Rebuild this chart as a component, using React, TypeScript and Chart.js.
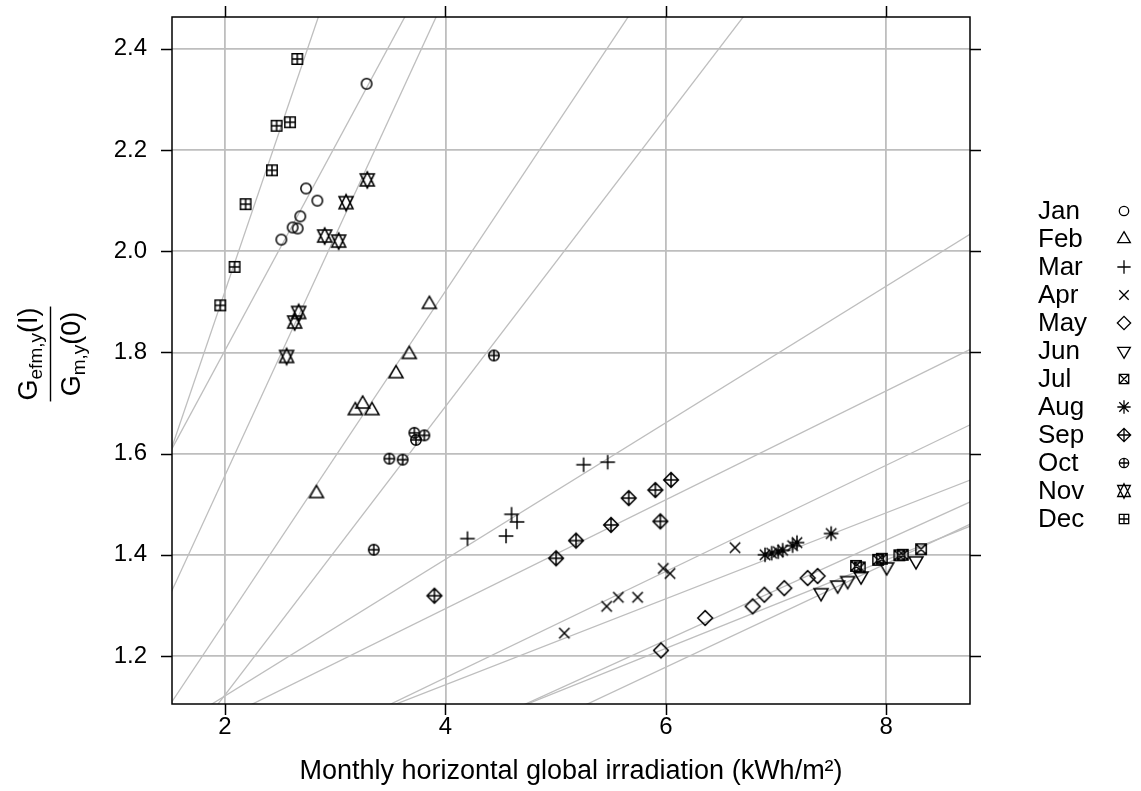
import { useEffect, useRef } from "react";
import { Chart, registerables } from "chart.js";

Chart.register(...registerables);

// ---------------- data ----------------
const months = ["Jan", "Feb", "Mar", "Apr", "May", "Jun", "Jul", "Aug", "Sep", "Oct", "Nov", "Dec"];
const pchs = [1, 2, 3, 4, 5, 6, 7, 8, 9, 10, 11, 12];

const janX = [3.285, 2.735, 2.838, 2.683, 2.614, 2.659, 2.511];
const janY = [2.331, 2.124, 2.1, 2.069, 2.047, 2.045, 2.023];
const febX = [3.854, 3.672, 3.552, 3.249, 3.182, 3.334, 2.83];
const febY = [1.895, 1.796, 1.758, 1.698, 1.685, 1.685, 1.521];
const marX = [4.2, 4.55, 4.6, 4.65, 5.254, 5.472];
const marY = [1.432, 1.437, 1.48, 1.465, 1.578, 1.583];
const aprX = [6.628, 5.977, 6.038, 5.569, 5.744, 5.463, 5.079];
const aprY = [1.414, 1.373, 1.363, 1.316, 1.316, 1.298, 1.245];
const mayX = [5.956, 6.357, 6.788, 6.894, 7.075, 7.287, 7.377];
const mayY = [1.211, 1.275, 1.298, 1.321, 1.334, 1.354, 1.358];
const junX = [7.408, 7.559, 7.65, 7.771, 8.004, 8.27];
const junY = [1.325, 1.34, 1.349, 1.358, 1.376, 1.388];
const julX = [7.726, 7.76, 7.926, 7.96, 8.119, 8.15, 8.316];
const julY = [1.378, 1.375, 1.39, 1.392, 1.399, 1.4, 1.411];
const augX = [6.9, 6.96, 7.02, 7.06, 7.15, 7.19, 7.5];
const augY = [1.4, 1.403, 1.406, 1.409, 1.418, 1.424, 1.442];
const sepX = [6.047, 5.905, 5.663, 5.95, 5.503, 5.185, 5.004, 3.9];
const sepY = [1.548, 1.528, 1.512, 1.466, 1.459, 1.428, 1.393, 1.319];
const octX = [4.44, 3.718, 3.809, 3.733, 3.491, 3.612, 3.35];
const octY = [1.794, 1.641, 1.636, 1.627, 1.59, 1.588, 1.41];
const novX = [3.291, 3.098, 2.904, 3.031, 2.668, 2.632, 2.559];
const novY = [2.141, 2.096, 2.03, 2.02, 1.879, 1.86, 1.792];
const decX = [2.656, 2.468, 2.59, 2.426, 2.187, 2.087, 1.957];
const decY = [2.38, 2.248, 2.255, 2.16, 2.093, 1.969, 1.893];

// regression line per month (intercept, slope)
const lineIntercept = [0.996, 0.613, 0.851, 0.737, 0.637, 0.564, 0.69, 0.803, 0.863, 0.553, 0.611, 0.641];
const lineSlope = [0.404, 0.327, 0.135, 0.105, 0.099, 0.1023, 0.0875, 0.085, 0.1076, 0.285, 0.473, 0.64];

const xTicks = [2, 4, 6, 8];
const yTicks = [1.2, 1.4, 1.6, 1.8, 2.0, 2.2, 2.4];
const xMin = 1.519;
const xMax = 8.76;
const yMin = 1.105;
const yMax = 2.463;

const xTitle = "Monthly horizontal global irradiation (kWh/m²)";

const allX = [janX, febX, marX, aprX, mayX, junX, julX, augX, sepX, octX, novX, decX];
const allY = [janY, febY, marY, aprY, mayY, junY, julY, augY, sepY, octY, novY, decY];

const FONT = '"Liberation Sans", Arial, Helvetica, sans-serif';
const GRAY = "#bebebe";

// ---------------- symbols (R pch) ----------------
function drawSymbol(ctx: CanvasRenderingContext2D, pch: number, x: number, y: number, r: number) {
  const S2 = Math.SQRT2;
  const line = (x1: number, y1: number, x2: number, y2: number) => {
    ctx.moveTo(x1, y1);
    ctx.lineTo(x2, y2);
  };
  ctx.beginPath();
  const TRC0 = 1.5551203, TRC1 = 1.3467736, TRC2 = 0.7775602;
  switch (pch) {
    case 1:
      ctx.arc(x, y, r, 0, Math.PI * 2);
      break;
    case 2: {
      const r2 = TRC0 * r, yc = TRC2 * r, xc = TRC1 * r;
      ctx.moveTo(x, y - r2);
      ctx.lineTo(x + xc, y + yc);
      ctx.lineTo(x - xc, y + yc);
      ctx.closePath();
      break;
    }
    case 3: {
      const h = S2 * r;
      line(x - h, y, x + h, y);
      line(x, y - h, x, y + h);
      break;
    }
    case 4:
      line(x - r, y - r, x + r, y + r);
      line(x - r, y + r, x + r, y - r);
      break;
    case 5: {
      const h = S2 * r;
      ctx.moveTo(x - h, y);
      ctx.lineTo(x, y - h);
      ctx.lineTo(x + h, y);
      ctx.lineTo(x, y + h);
      ctx.closePath();
      break;
    }
    case 6: {
      const r2 = TRC0 * r, yc = TRC2 * r, xc = TRC1 * r;
      ctx.moveTo(x, y + r2);
      ctx.lineTo(x + xc, y - yc);
      ctx.lineTo(x - xc, y - yc);
      ctx.closePath();
      break;
    }
    case 7:
      ctx.rect(x - r, y - r, 2 * r, 2 * r);
      line(x - r, y - r, x + r, y + r);
      line(x - r, y + r, x + r, y - r);
      break;
    case 8: {
      line(x - r, y - r, x + r, y + r);
      line(x - r, y + r, x + r, y - r);
      const h = S2 * r;
      line(x - h, y, x + h, y);
      line(x, y - h, x, y + h);
      break;
    }
    case 9: {
      const h = S2 * r;
      ctx.moveTo(x - h, y);
      ctx.lineTo(x, y - h);
      ctx.lineTo(x + h, y);
      ctx.lineTo(x, y + h);
      ctx.closePath();
      line(x - h, y, x + h, y);
      line(x, y - h, x, y + h);
      break;
    }
    case 10:
      ctx.arc(x, y, r, 0, Math.PI * 2);
      line(x - r, y, x + r, y);
      line(x, y - r, x, y + r);
      break;
    case 11: {
      const rr = TRC0 * r;
      const yc = 0.5 * (TRC2 * r + rr);
      const xc = TRC1 * r;
      ctx.moveTo(x, y + rr);
      ctx.lineTo(x + xc, y - yc);
      ctx.lineTo(x - xc, y - yc);
      ctx.closePath();
      ctx.moveTo(x, y - rr);
      ctx.lineTo(x + xc, y + yc);
      ctx.lineTo(x - xc, y + yc);
      ctx.closePath();
      break;
    }
    case 12:
      ctx.rect(x - r, y - r, 2 * r, 2 * r);
      line(x - r, y, x + r, y);
      line(x, y - r, x, y + r);
      break;
  }
  ctx.stroke();
}

const SYM_R = 5.2;

function makeSymbolCanvas(pch: number): HTMLCanvasElement {
  const c = document.createElement("canvas");
  c.width = 26;
  c.height = 26;
  const ctx = c.getContext("2d")!;
  ctx.strokeStyle = "#000";
  ctx.lineWidth = 1.5;
  drawSymbol(ctx, pch, 13, 13, SYM_R);
  return c;
}

// ---------------- plugins ----------------
const framePlugin = {
  id: "frame",
  afterDraw(chart: any) {
    const { ctx, chartArea } = chart;
    const xs = chart.scales.x;
    const ys = chart.scales.y;
    ctx.save();
    ctx.strokeStyle = "#000";
    ctx.lineWidth = 1.5;
    ctx.strokeRect(chartArea.left, chartArea.top, chartArea.right - chartArea.left, chartArea.bottom - chartArea.top);
    const tl = 11;
    ctx.beginPath();
    for (const v of xTicks) {
      const px = Math.round(xs.getPixelForValue(v)) + 0.5;
      ctx.moveTo(px, chartArea.bottom);
      ctx.lineTo(px, chartArea.bottom + tl);
      ctx.moveTo(px, chartArea.top);
      ctx.lineTo(px, chartArea.top - tl);
    }
    for (const v of yTicks) {
      const py = Math.round(ys.getPixelForValue(v)) + 0.5;
      ctx.moveTo(chartArea.left, py);
      ctx.lineTo(chartArea.left - tl, py);
      ctx.moveTo(chartArea.right, py);
      ctx.lineTo(chartArea.right + tl, py);
    }
    ctx.stroke();

    // x title
    ctx.fillStyle = "#000";
    ctx.font = `27px ${FONT}`;
    ctx.textAlign = "center";
    ctx.textBaseline = "alphabetic";
    ctx.fillText(xTitle, (chartArea.left + chartArea.right) / 2, 779);

    // y title: fraction, rotated
    ctx.save();
    ctx.translate(50, 354);
    ctx.rotate(-Math.PI / 2);
    const big = `27px ${FONT}`;
    const small = `19px ${FONT}`;
    const drawFrac = (base: string, sub: string, tail: string, baseline: number) => {
      ctx.font = big;
      const wB = ctx.measureText(base).width;
      const wT = ctx.measureText(tail).width;
      ctx.font = small;
      const wS = ctx.measureText(sub).width;
      const total = wB + wS + wT;
      let x = -total / 2;
      ctx.textAlign = "left";
      ctx.font = big;
      ctx.fillText(base, x, baseline);
      x += wB;
      ctx.font = small;
      ctx.fillText(sub, x, baseline + 5);
      x += wS;
      ctx.font = big;
      ctx.fillText(tail, x, baseline);
      return total;
    };
    const w1 = drawFrac("G", "efm,y", "(I)", -13);
    drawFrac("G", "m,y", "(0)", 30);
    ctx.strokeStyle = "#000";
    ctx.lineWidth = 1.4;
    ctx.beginPath();
    ctx.moveTo(-w1 / 2 - 1, 0.5);
    ctx.lineTo(w1 / 2 + 1, 0.5);
    ctx.stroke();
    ctx.restore();

    // legend
    ctx.font = `26px ${FONT}`;
    ctx.textAlign = "left";
    ctx.textBaseline = "middle";
    ctx.strokeStyle = "#000";
    ctx.lineWidth = 1.3;
    months.forEach((m, i) => {
      const yy = 211 + i * 28;
      ctx.fillText(m, 1038, yy + 1);
      drawSymbol(ctx, pchs[i], 1124, yy, 4.7);
    });
    ctx.restore();
  },
};

export default function App() {
  const ref = useRef<HTMLCanvasElement | null>(null);
  useEffect(() => {
    if (!ref.current) return;
    const pointDatasets = months.map((m, i) => ({
      type: "scatter" as const,
      label: m,
      data: allX[i].map((x, k) => ({ x, y: allY[i][k] })),
      pointStyle: makeSymbolCanvas(pchs[i]),
      pointRadius: 6,
      showLine: false,
    }));
    const lineDatasets = months.map((m, i) => ({
      type: "line" as const,
      label: m + " fit",
      data: [xMin - 1, xMax + 1].map((x) => ({ x, y: lineIntercept[i] + lineSlope[i] * x })),
      borderColor: GRAY,
      borderWidth: 1.3,
      pointRadius: 0,
      fill: false,
    }));
    const chart = new Chart(ref.current, {
      type: "scatter",
      data: { datasets: [...pointDatasets, ...lineDatasets] as any },
      options: {
        animation: false,
        responsive: false,
        events: [],
        layout: { padding: { left: 0, top: 17, right: 171, bottom: 0 } },
        plugins: { legend: { display: false }, tooltip: { enabled: false } },
        scales: {
          x: {
            type: "linear",
            min: xMin,
            max: xMax,
            afterBuildTicks: (s: any) => {
              s.ticks = xTicks.map((v) => ({ value: v }));
            },
            afterFit: (s: any) => {
              s.height = 87;
              s.paddingLeft = 0;
              s.paddingRight = 0;
            },
            ticks: {
              padding: 9,
              color: "#000",
              font: { family: FONT, size: 24 },
              callback: (v: any) => String(v),
            },
            grid: { color: GRAY, lineWidth: 1.8, drawTicks: false },
            border: { display: false },
          },
          y: {
            type: "linear",
            min: yMin,
            max: yMax,
            afterBuildTicks: (s: any) => {
              s.ticks = yTicks.map((v) => ({ value: v }));
            },
            afterFit: (s: any) => {
              s.width = 172;
              s.paddingTop = 0;
              s.paddingBottom = 0;
            },
            ticks: {
              padding: 25,
              color: "#000",
              font: { family: FONT, size: 24 },
              callback: (v: any) => Number(v).toFixed(1),
            },
            grid: { color: GRAY, lineWidth: 1.8, drawTicks: false },
            border: { display: false },
          },
        },
      },
      plugins: [framePlugin],
    });
    return () => chart.destroy();
  }, []);
  return (
    <div style={{ position: "fixed", left: 0, top: 0, width: 1141, height: 791, background: "#fff" }}>
      <canvas ref={ref} width={1141} height={791} style={{ width: 1141, height: 791 }} />
    </div>
  );
}
